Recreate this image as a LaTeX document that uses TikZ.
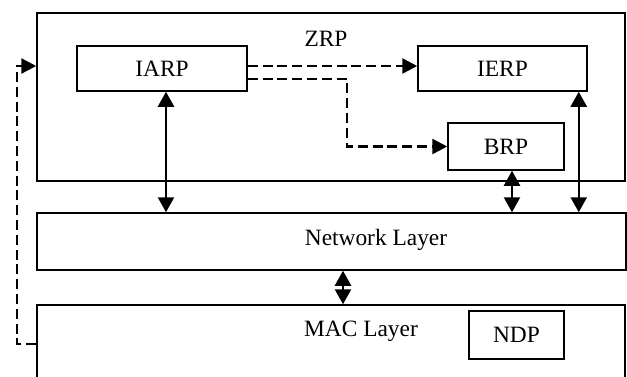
\documentclass[tikz,border=0pt]{standalone}
\usepackage{fontspec}
\setmainfont{Liberation Serif}
\usetikzlibrary{arrows.meta}
\begin{document}
\begin{tikzpicture}[x=0.5pt,y=-0.5pt,
  font=\fontsize{11.7}{14}\selectfont,
  box/.style={draw,line width=0.75pt,inner sep=0pt,anchor=center},
  txt/.style={inner sep=0pt,anchor=center},
  dbl/.style={line width=1.2pt,{Triangle[length=7.5pt,width=8pt]}-{Triangle[length=7.5pt,width=8pt]}},
  dsh/.style={line width=1.2pt,dash pattern=on 5pt off 2.4pt,-{Triangle[length=7.5pt,width=7.5pt]}}]
\useasboundingbox (0,0) rectangle (627,376);
\clip (0,0) rectangle (627,376);
\node[box,minimum width=294pt,minimum height=84pt] (zrp) at (331,97) {};
\node[txt] (zrplabel) at (326,39) {ZRP};
\node[box,minimum width=85pt,minimum height=22.5pt] (iarp) at (162,68.5) {IARP};
\node[box,minimum width=84.5pt,minimum height=22.5pt] (ierp) at (502.5,68.5) {IERP};
\node[box,minimum width=58pt,minimum height=23.5pt] (brp) at (506,146.5) {BRP};
\node[box,minimum width=294.5pt,minimum height=28.5pt] (net) at (331.5,241.5) {};
\node[txt] (netlabel) at (376,240) {Network Layer};
\node[box,minimum width=294pt,minimum height=50pt] (mac) at (331,355) {};
\node[txt] (maclabel) at (361,331) {MAC Layer};
\node[box,minimum width=47.5pt,minimum height=24pt] (ndp) at (516.5,335) {NDP};
% solid double arrows
\draw[dbl] ([xshift=2pt]iarp.south) -- ([xshift=2pt]iarp.south |- net.north);
\draw[dbl] ([xshift=3pt]brp.south) -- ([xshift=3pt]brp.south |- net.north);
\draw[dbl] ([xshift=-4.5pt]ierp.south east) -- ([xshift=-4.5pt]ierp.south east |- net.north);
\draw[dbl] ([xshift=5.75pt]net.south) -- ([xshift=5.75pt]net.south |- mac.north);
% dashed arrows
\draw[dsh] ([yshift=1.25pt]iarp.east) -- ([yshift=1.25pt]iarp.east -| ierp.west);
\coordinate (bend) at (347,146.5);
\draw[dsh] ([yshift=-5.25pt]iarp.east) -| (bend) -- (brp.west);
\coordinate (fbbot) at (17,344);
\coordinate (fbtop) at (17,66);
\draw[dsh] (fbbot -| mac.west) -- (fbbot) -- (fbtop) -- (fbtop -| zrp.west);
\end{tikzpicture}
\end{document}
